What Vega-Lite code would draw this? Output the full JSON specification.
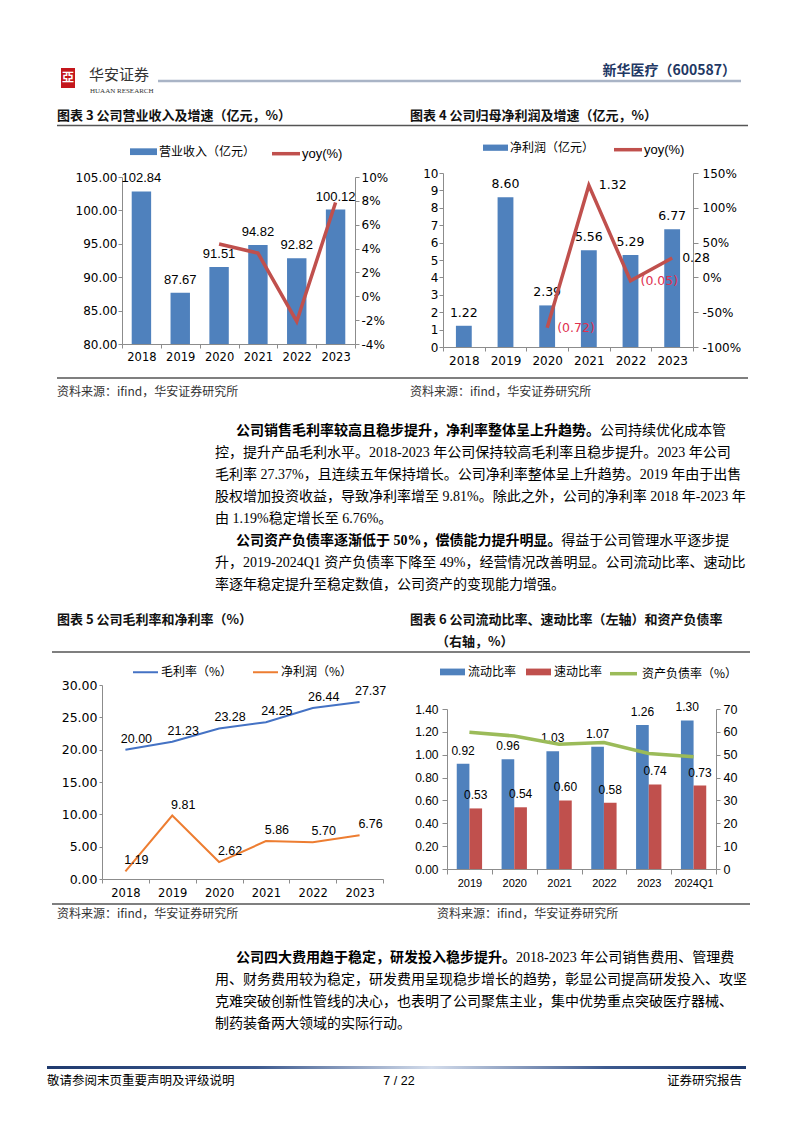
{
  "$schema": "https://vega.github.io/schema/vega-lite/v6.json",
  "background": "white",
  "padding": 0,
  "spacing": 0,
  "bounds": "flush",
  "resolve": {"scale": {"fill": "independent", "stroke": "independent", "color": "independent"}},
  "config": {
    "view": {"stroke": null},
    "font": "Noto Sans CJK SC",
    "axis": {"grid": false, "domainColor": "#8C8C8C", "tickColor": "#8C8C8C", "labelColor": "#000", "labelFont": "DejaVu Sans", "labelFontSize": 12, "domainWidth": 1, "tickWidth": 1, "labelOverlap": false, "labelBound": false},
    "legend": {"padding": 0, "labelColor": "#000"},
    "locale": {"number": {"decimal": ".", "thousands": ",", "grouping": [3], "currency": ["", ""], "minus": "-"}}
  },
  "vconcat": [
    {
      "width": 802, "height": 173,
      "layer": [
        {"data": {"values": [{"item": "logo"}]}, "mark": {"type": "rect", "fill": "#C4161C"}, "encoding": {"x": {"value": 61}, "x2": {"value": 75}, "y": {"value": 68}, "y2": {"value": 88}}},
        {"data": {"values": [{"glyph": "亞"}]}, "mark": {"type": "text", "align": "center", "baseline": "middle", "font": "Noto Sans CJK SC", "fontSize": 12, "fontWeight": "bold", "color": "white"}, "encoding": {"x": {"value": 68}, "y": {"value": 78}, "text": {"field": "glyph"}}},
        {"data": {"values": [{"name": "华安证券"}]}, "mark": {"type": "text", "align": "left", "baseline": "middle", "font": "Noto Sans CJK SC", "fontSize": 15, "color": "#333"}, "encoding": {"x": {"value": 89}, "y": {"value": 75}, "text": {"field": "name"}}},
        {"data": {"values": [{"name": "HUAAN RESEARCH"}]}, "mark": {"type": "text", "align": "left", "baseline": "middle", "font": "Liberation Serif", "fontSize": 7, "color": "#333"}, "encoding": {"x": {"value": 90}, "y": {"value": 91}, "text": {"field": "name"}}},
        {"data": {"values": [{"item": "header rule"}]}, "mark": {"type": "rule", "stroke": "#A9B4C6", "strokeWidth": 2.5}, "encoding": {"x": {"value": 158}, "x2": {"value": 741}, "y": {"value": 81}}},
        {"data": {"values": [{"name": "新华医疗（600587）"}]}, "mark": {"type": "text", "align": "right", "baseline": "middle", "font": "Noto Sans CJK SC", "fontSize": 14, "fontWeight": "bold", "color": "#1F3864"}, "encoding": {"x": {"value": 736}, "y": {"value": 71}, "text": {"field": "name"}}},
        {"data": {"values": [{"title": "图表 3 公司营业收入及增速（亿元，%）"}]}, "mark": {"type": "text", "align": "left", "baseline": "middle", "font": "Noto Sans CJK SC", "fontSize": 13, "fontWeight": "bold", "color": "#111"}, "encoding": {"x": {"value": 57}, "y": {"value": 116}, "text": {"field": "title"}}},
        {"data": {"values": [{"title": "图表 4 公司归母净利润及增速（亿元，%）"}]}, "mark": {"type": "text", "align": "left", "baseline": "middle", "font": "Noto Sans CJK SC", "fontSize": 13, "fontWeight": "bold", "color": "#111"}, "encoding": {"x": {"value": 410}, "y": {"value": 116}, "text": {"field": "title"}}},
        {"data": {"values": [{"item": "title rule"}]}, "mark": {"type": "rule", "stroke": "#555", "strokeWidth": 1.5}, "encoding": {"x": {"value": 57}, "x2": {"value": 748}, "y": {"value": 125.5}}}
      ]
    },
    {
      "width": 802, "height": 174,
      "layer": [
        {
          "data": {"values": [
            {"year": "2018", "revenue": 102.84, "yoy": null},
            {"year": "2019", "revenue": 87.67, "yoy": null},
            {"year": "2020", "revenue": 91.51, "yoy": 0.0438},
            {"year": "2021", "revenue": 94.82, "yoy": 0.0362},
            {"year": "2022", "revenue": 92.82, "yoy": -0.0211},
            {"year": "2023", "revenue": 100.12, "yoy": 0.0786}
          ]},
          "encoding": {
            "x": {"field": "year", "type": "ordinal", "scale": {"range": [122, 355], "paddingInner": 0, "paddingOuter": 0}, "axis": {"orient": "bottom", "offset": -3, "title": null, "labelAngle": 0, "tickBand": "extent", "tickSize": 4, "labelPadding": 3, "labelFont": "DejaVu Sans", "labelFontSize": 11.5}},
            "y": {"field": "revenue", "type": "quantitative", "scale": {"domain": [80, 105], "range": [171, 4], "zero": false, "nice": false}, "axis": {"orient": "left", "offset": -122, "title": null, "values": [80, 85, 90, 95, 100, 105], "format": ".2f", "tickSize": 4, "labelPadding": 1}}
          },
          "layer": [
            {"mark": {"type": "bar", "width": {"band": 0.5}},
             "encoding": {
               "y2": {"datum": 80},
               "fill": {"datum": "营业收入（亿元）", "type": "nominal", "scale": {"range": ["#4F81BD"]}, "legend": {"orient": "none", "legendX": 130, "legendY": -34.8, "direction": "horizontal", "title": null, "symbolType": "M-1,-0.25H1V0.25H-1Z", "symbolSize": 729, "symbolStrokeWidth": 0, "labelFont": "Noto Sans CJK SC", "labelFontSize": 12, "labelOffset": 2}}
             }},
            {"mark": {"type": "text", "dy": -13, "font": "Liberation Sans", "fontSize": 13, "color": "#000"},
             "encoding": {"text": {"field": "revenue", "type": "quantitative", "format": ".2f"}}}
          ]
        },
        {
          "data": {"values": [
            {"year": "2018", "revenue": 102.84, "yoy": null},
            {"year": "2019", "revenue": 87.67, "yoy": null},
            {"year": "2020", "revenue": 91.51, "yoy": 0.0438},
            {"year": "2021", "revenue": 94.82, "yoy": 0.0362},
            {"year": "2022", "revenue": 92.82, "yoy": -0.0211},
            {"year": "2023", "revenue": 100.12, "yoy": 0.0786}
          ]},
          "mark": {"type": "line", "strokeWidth": 3.5},
          "encoding": {
            "x": {"field": "year", "type": "ordinal", "scale": {"range": [122, 355], "paddingInner": 0, "paddingOuter": 0}, "axis": null},
            "y": {"field": "yoy", "type": "quantitative", "scale": {"domain": [-0.04, 0.1], "range": [171, 4], "nice": false, "zero": false}, "axis": {"orient": "right", "offset": -447, "title": null, "values": [-0.04, -0.02, 0, 0.02, 0.04, 0.06, 0.08, 0.1], "format": ".0%", "tickSize": 4, "labelPadding": 2}},
            "stroke": {"datum": "yoy(%)", "type": "nominal", "scale": {"range": ["#C0504D"]}, "legend": {"orient": "none", "legendX": 270, "legendY": -35.3, "direction": "horizontal", "title": null, "symbolType": "stroke", "symbolSize": 784, "symbolStrokeWidth": 3.5, "labelFont": "Liberation Sans", "labelFontSize": 13, "labelOffset": 0}}
          }
        },
        {
          "data": {"values": [
            {"year": "2018", "profit": 1.22, "yoy": null},
            {"year": "2019", "profit": 8.60, "yoy": null},
            {"year": "2020", "profit": 2.39, "yoy": -0.722},
            {"year": "2021", "profit": 5.56, "yoy": 1.322},
            {"year": "2022", "profit": 5.29, "yoy": -0.049},
            {"year": "2023", "profit": 6.77, "yoy": 0.280}
          ]},
          "encoding": {
            "x": {"field": "year", "type": "ordinal", "scale": {"range": [443, 693], "paddingInner": 0, "paddingOuter": 0}, "axis": {"orient": "bottom", "offset": 0, "title": null, "labelAngle": 0, "tickBand": "extent", "tickSize": 4, "labelPadding": 4, "labelFont": "DejaVu Sans", "labelFontSize": 12}},
            "y": {"field": "profit", "type": "quantitative", "scale": {"domain": [0, 10], "range": [174, 0], "nice": false}, "axis": {"orient": "left", "offset": -443, "title": null, "values": [0, 1, 2, 3, 4, 5, 6, 7, 8, 9, 10], "format": "d", "tickSize": 4, "labelPadding": 1}}
          },
          "layer": [
            {"mark": {"type": "bar", "width": {"band": 0.38}},
             "encoding": {
               "y2": {"datum": 0},
               "fill": {"datum": "净利润（亿元）", "type": "nominal", "scale": {"range": ["#4F81BD"]}, "legend": {"orient": "none", "legendX": 483, "legendY": -37.8, "direction": "horizontal", "title": null, "symbolType": "M-1,-0.25H1V0.25H-1Z", "symbolSize": 625, "symbolStrokeWidth": 0, "labelFont": "Noto Sans CJK SC", "labelFontSize": 12, "labelOffset": 2}}
             }},
            {"mark": {"type": "text", "dy": -13, "font": "DejaVu Sans", "fontSize": 12.5, "color": "#000"},
             "encoding": {"text": {"field": "profit", "type": "quantitative", "format": ".2f"}}}
          ]
        },
        {
          "data": {"values": [
            {"year": "2018", "profit": 1.22, "yoy": null},
            {"year": "2019", "profit": 8.60, "yoy": null},
            {"year": "2020", "profit": 2.39, "yoy": -0.722},
            {"year": "2021", "profit": 5.56, "yoy": 1.322},
            {"year": "2022", "profit": 5.29, "yoy": -0.049},
            {"year": "2023", "profit": 6.77, "yoy": 0.280}
          ]},
          "encoding": {
            "x": {"field": "year", "type": "ordinal", "scale": {"range": [443, 693], "paddingInner": 0, "paddingOuter": 0}, "axis": null},
            "y": {"field": "yoy", "type": "quantitative", "scale": {"domain": [-1, 1.5], "range": [174, 0], "nice": false, "zero": false}, "axis": {"orient": "right", "offset": -109, "title": null, "values": [-1, -0.5, 0, 0.5, 1, 1.5], "format": ".0%", "tickSize": 5, "labelPadding": 4}}
          },
          "layer": [
            {"mark": {"type": "line", "strokeWidth": 3.5},
             "encoding": {
               "stroke": {"datum": "yoy(%)", "type": "nominal", "scale": {"range": ["#C0504D"]}, "legend": {"orient": "none", "legendX": 612, "legendY": -39.3, "direction": "horizontal", "title": null, "symbolType": "stroke", "symbolSize": 784, "symbolStrokeWidth": 3.5, "labelFont": "Liberation Sans", "labelFontSize": 13, "labelOffset": 0}}
             }},
            {"transform": [{"filter": "datum.yoy != null"}],
             "mark": {"type": "text", "align": "left", "baseline": "middle", "dx": 10, "font": "DejaVu Sans", "fontSize": 12.5},
             "encoding": {
               "text": {"field": "yoy", "type": "quantitative", "format": "(.2f"},
               "color": {"condition": {"test": "datum.yoy < 0", "value": "#E0304F"}, "value": "#000"}
             }}
          ]
        }
      ],
      "resolve": {"scale": {"x": "independent", "y": "independent", "fill": "independent", "stroke": "independent"}}
    },
    {
      "width": 802, "height": 73,
      "layer": [
        {"data": {"values": [{"item": "source rule"}]}, "mark": {"type": "rule", "stroke": "#555", "strokeWidth": 1.5}, "encoding": {"x": {"value": 57}, "x2": {"value": 748}, "y": {"value": 31}}},
        {"data": {"values": [{"source": "资料来源：ifind，华安证券研究所"}]}, "mark": {"type": "text", "align": "left", "baseline": "middle", "font": "Noto Sans CJK SC", "fontSize": 12, "color": "#333"}, "encoding": {"x": {"value": 57}, "y": {"value": 45}, "text": {"field": "source"}}},
        {"data": {"values": [{"source": "资料来源：ifind，华安证券研究所"}]}, "mark": {"type": "text", "align": "left", "baseline": "middle", "font": "Noto Sans CJK SC", "fontSize": 12, "color": "#333"}, "encoding": {"x": {"value": 410}, "y": {"value": 45}, "text": {"field": "source"}}}
      ]
    },
    {
      "width": 760, "height": 176,
      "data": {"values": [
        {"line": 1, "lead": "公司销售毛利率较高且稳步提升，净利率整体呈上升趋势。", "tail": "公司持续优化成本管", "text": null},
        {"line": 2, "lead": null, "tail": null, "text": "控，提升产品毛利水平。2018-2023 年公司保持较高毛利率且稳步提升。2023 年公司"},
        {"line": 3, "lead": null, "tail": null, "text": "毛利率 27.37%，且连续五年保持增长。公司净利率整体呈上升趋势。2019 年由于出售"},
        {"line": 4, "lead": null, "tail": null, "text": "股权增加投资收益，导致净利率增至 9.81%。除此之外，公司的净利率 2018 年-2023 年"},
        {"line": 5, "lead": null, "tail": null, "text": "由 1.19%稳定增长至 6.76%。"},
        {"line": 6, "lead": "公司资产负债率逐渐低于 50%，偿债能力提升明显。", "tail": "得益于公司管理水平逐步提", "text": null},
        {"line": 7, "lead": null, "tail": null, "text": "升，2019-2024Q1 资产负债率下降至 49%，经营情况改善明显。公司流动比率、速动比"},
        {"line": 8, "lead": null, "tail": null, "text": "率逐年稳定提升至稳定数值，公司资产的变现能力增强。"}
      ]},
      "encoding": {
        "y": {"field": "line", "type": "ordinal", "axis": null, "scale": {"type": "point", "padding": 0.5, "domain": [1, 2, 3, 4, 5, 6, 7, 8]}}
      },
      "layer": [
        {"transform": [{"filter": "datum.lead != null"}], "mark": {"type": "text", "align": "left", "baseline": "middle", "font": "Liberation Serif, Noto Sans CJK SC", "fontSize": 14, "fontWeight": "bold", "color": "#000"}, "encoding": {"x": {"value": 236}, "text": {"field": "lead"}}},
        {"transform": [{"filter": "datum.lead != null"}], "mark": {"type": "text", "align": "left", "baseline": "middle", "font": "Liberation Serif, Noto Sans CJK SC", "fontSize": 14, "color": "#000"}, "encoding": {"x": {"value": {"expr": "236 + 14 * (length(replace(datum.lead, regexp('[ -~]', 'g'), '')) + 0.56 * (length(datum.lead) - length(replace(datum.lead, regexp('[ -~]', 'g'), ''))))"}}, "text": {"field": "tail"}}},
        {"transform": [{"filter": "datum.text != null"}], "mark": {"type": "text", "align": "left", "baseline": "middle", "font": "Liberation Serif, Noto Sans CJK SC", "fontSize": 14, "color": "#000"}, "encoding": {"x": {"value": 215}, "text": {"field": "text"}}}
      ]
    },
    {
      "width": 802, "height": 89,
      "layer": [
        {"data": {"values": [{"title": "图表 5 公司毛利率和净利率（%）"}]}, "mark": {"type": "text", "align": "left", "baseline": "middle", "font": "Noto Sans CJK SC", "fontSize": 13, "fontWeight": "bold", "color": "#111"}, "encoding": {"x": {"value": 57}, "y": {"value": 24}, "text": {"field": "title"}}},
        {"data": {"values": [{"title": "图表 6 公司流动比率、速动比率（左轴）和资产负债率"}]}, "mark": {"type": "text", "align": "left", "baseline": "middle", "font": "Noto Sans CJK SC", "fontSize": 13, "fontWeight": "bold", "color": "#111"}, "encoding": {"x": {"value": 410}, "y": {"value": 24}, "text": {"field": "title"}}},
        {"data": {"values": [{"title": "（右轴，%）"}]}, "mark": {"type": "text", "align": "left", "baseline": "middle", "font": "Noto Sans CJK SC", "fontSize": 13, "fontWeight": "bold", "color": "#111"}, "encoding": {"x": {"value": 436}, "y": {"value": 46}, "text": {"field": "title"}}},
        {"data": {"values": [{"item": "title rule"}]}, "mark": {"type": "rule", "stroke": "#555", "strokeWidth": 1.5}, "encoding": {"x": {"value": 52}, "x2": {"value": 750}, "y": {"value": 56}}}
      ]
    },
    {
      "width": 802, "height": 194,
      "layer": [
        {
          "data": {"values": [
            {"year": "2018", "metric": "毛利率（%）", "value": 20.00},
            {"year": "2019", "metric": "毛利率（%）", "value": 21.23},
            {"year": "2020", "metric": "毛利率（%）", "value": 23.28},
            {"year": "2021", "metric": "毛利率（%）", "value": 24.25},
            {"year": "2022", "metric": "毛利率（%）", "value": 26.44},
            {"year": "2023", "metric": "毛利率（%）", "value": 27.37},
            {"year": "2018", "metric": "净利润（%）", "value": 1.19},
            {"year": "2019", "metric": "净利润（%）", "value": 9.81},
            {"year": "2020", "metric": "净利润（%）", "value": 2.62},
            {"year": "2021", "metric": "净利润（%）", "value": 5.86},
            {"year": "2022", "metric": "净利润（%）", "value": 5.70},
            {"year": "2023", "metric": "净利润（%）", "value": 6.76}
          ]},
          "encoding": {
            "x": {"field": "year", "type": "ordinal", "scale": {"range": [102, 383], "paddingInner": 0, "paddingOuter": 0}, "axis": {"orient": "bottom", "title": null, "labelAngle": 0, "tickBand": "extent", "tickSize": 4, "labelPadding": 4, "labelFont": "DejaVu Sans", "labelFontSize": 11.5}},
            "y": {"field": "value", "type": "quantitative", "scale": {"domain": [0, 30], "range": [194, 0], "nice": false}, "axis": {"orient": "left", "offset": -102, "title": null, "values": [0, 5, 10, 15, 20, 25, 30], "format": ".2f", "tickSize": 3, "labelPadding": 2, "labelFontSize": 12.5}}
          },
          "layer": [
            {"mark": {"type": "line", "strokeWidth": 2},
             "encoding": {"stroke": {"field": "metric", "type": "nominal", "scale": {"domain": ["毛利率（%）", "净利润（%）"], "range": ["#4472C4", "#ED7D31"]}, "legend": {"orient": "none", "legendX": 132, "legendY": -26.5, "direction": "horizontal", "title": null, "symbolType": "stroke", "symbolSize": 625, "symbolStrokeWidth": 2, "labelFont": "Noto Sans CJK SC", "labelFontSize": 12, "labelOffset": 2, "columnPadding": 16}}}},
            {"mark": {"type": "text", "dx": 11, "dy": -11, "font": "Liberation Sans", "fontSize": 12.5, "color": "#000"},
             "encoding": {"text": {"field": "value", "type": "quantitative", "format": ".2f"}}}
          ]
        },
        {
          "data": {"values": [
            {"period": "2019", "metric": "流动比率", "value": 0.92},
            {"period": "2020", "metric": "流动比率", "value": 0.96},
            {"period": "2021", "metric": "流动比率", "value": 1.03},
            {"period": "2022", "metric": "流动比率", "value": 1.07},
            {"period": "2023", "metric": "流动比率", "value": 1.26},
            {"period": "2024Q1", "metric": "流动比率", "value": 1.30},
            {"period": "2019", "metric": "速动比率", "value": 0.53},
            {"period": "2020", "metric": "速动比率", "value": 0.54},
            {"period": "2021", "metric": "速动比率", "value": 0.60},
            {"period": "2022", "metric": "速动比率", "value": 0.58},
            {"period": "2023", "metric": "速动比率", "value": 0.74},
            {"period": "2024Q1", "metric": "速动比率", "value": 0.73}
          ]},
          "encoding": {
            "x": {"field": "period", "type": "ordinal", "scale": {"range": [447, 716], "paddingInner": 0, "paddingOuter": 0}, "axis": {"orient": "bottom", "offset": -10, "title": null, "labelAngle": 0, "tickBand": "extent", "tickSize": 5, "labelPadding": 3, "labelFont": "Liberation Sans", "labelFontSize": 11}},
            "xOffset": {"field": "metric", "type": "nominal", "scale": {"domain": ["流动比率", "速动比率"], "paddingInner": 0, "paddingOuter": 0.77}},
            "y": {"field": "value", "type": "quantitative", "scale": {"domain": [0, 1.4], "range": [184, 24], "nice": false}, "axis": {"orient": "left", "offset": -447, "title": null, "values": [0, 0.2, 0.4, 0.6, 0.8, 1.0, 1.2, 1.4], "format": ".2f", "tickSize": 5, "labelPadding": 4, "labelFont": "Liberation Sans", "labelFontSize": 12}}
          },
          "layer": [
            {"mark": {"type": "bar"},
             "encoding": {
               "y2": {"datum": 0},
               "fill": {"field": "metric", "type": "nominal", "scale": {"domain": ["流动比率", "速动比率"], "range": ["#4F81BD", "#C0504D"]}, "legend": {"orient": "none", "legendX": 440, "legendY": -25.8, "direction": "horizontal", "title": null, "symbolType": "M-1,-0.27H1V0.27H-1Z", "symbolSize": 625, "symbolStrokeWidth": 0, "labelFont": "Noto Sans CJK SC", "labelFontSize": 12, "labelOffset": 3, "columnPadding": 9}}
             }},
            {"mark": {"type": "text", "dy": -13, "font": "Liberation Sans", "fontSize": 12, "color": "#000"},
             "encoding": {"text": {"field": "value", "type": "quantitative", "format": ".2f"}}}
          ]
        },
        {
          "data": {"values": [
            {"period": "2019", "debt_ratio": 59.8},
            {"period": "2020", "debt_ratio": 58.2},
            {"period": "2021", "debt_ratio": 54.6},
            {"period": "2022", "debt_ratio": 55.3},
            {"period": "2023", "debt_ratio": 50.5},
            {"period": "2024Q1", "debt_ratio": 49.1}
          ]},
          "mark": {"type": "line", "strokeWidth": 3.5},
          "encoding": {
            "x": {"field": "period", "type": "ordinal", "scale": {"range": [447, 716], "paddingInner": 0, "paddingOuter": 0}, "axis": null},
            "y": {"field": "debt_ratio", "type": "quantitative", "scale": {"domain": [0, 70], "range": [184, 24], "nice": false}, "axis": {"orient": "right", "offset": -86, "title": null, "values": [0, 10, 20, 30, 40, 50, 60, 70], "format": "d", "tickSize": 4, "labelPadding": 3, "labelFont": "Liberation Sans", "labelFontSize": 12.5}},
            "stroke": {"datum": "资产负债率（%）", "type": "nominal", "scale": {"range": ["#9BBB59"]}, "legend": {"orient": "none", "legendX": 608, "legendY": -26.8, "direction": "horizontal", "title": null, "symbolType": "stroke", "symbolSize": 729, "symbolStrokeWidth": 3.5, "labelFont": "Noto Sans CJK SC", "labelFontSize": 12, "labelOffset": 3}}
          }
        }
      ],
      "resolve": {"scale": {"x": "independent", "y": "independent", "fill": "independent", "stroke": "independent"}}
    },
    {
      "width": 802, "height": 68,
      "layer": [
        {"data": {"values": [{"item": "source rule"}]}, "mark": {"type": "rule", "stroke": "#555", "strokeWidth": 1.5}, "encoding": {"x": {"value": 52}, "x2": {"value": 750}, "y": {"value": 25}}},
        {"data": {"values": [{"source": "资料来源：ifind，华安证券研究所"}]}, "mark": {"type": "text", "align": "left", "baseline": "middle", "font": "Noto Sans CJK SC", "fontSize": 12, "color": "#333"}, "encoding": {"x": {"value": 57}, "y": {"value": 35}, "text": {"field": "source"}}},
        {"data": {"values": [{"source": "资料来源：ifind，华安证券研究所"}]}, "mark": {"type": "text", "align": "left", "baseline": "middle", "font": "Noto Sans CJK SC", "fontSize": 12, "color": "#333"}, "encoding": {"x": {"value": 437}, "y": {"value": 35}, "text": {"field": "source"}}}
      ]
    },
    {
      "width": 760, "height": 88,
      "data": {"values": [
        {"line": 1, "lead": "公司四大费用趋于稳定，研发投入稳步提升。", "tail": "2018-2023 年公司销售费用、管理费", "text": null},
        {"line": 2, "lead": null, "tail": null, "text": "用、财务费用较为稳定，研发费用呈现稳步增长的趋势，彰显公司提高研发投入、攻坚"},
        {"line": 3, "lead": null, "tail": null, "text": "克难突破创新性管线的决心，也表明了公司聚焦主业，集中优势重点突破医疗器械、"},
        {"line": 4, "lead": null, "tail": null, "text": "制药装备两大领域的实际行动。"}
      ]},
      "encoding": {
        "y": {"field": "line", "type": "ordinal", "axis": null, "scale": {"type": "point", "padding": 0.5, "domain": [1, 2, 3, 4]}}
      },
      "layer": [
        {"transform": [{"filter": "datum.lead != null"}], "mark": {"type": "text", "align": "left", "baseline": "middle", "font": "Liberation Serif, Noto Sans CJK SC", "fontSize": 14, "fontWeight": "bold", "color": "#000"}, "encoding": {"x": {"value": 236}, "text": {"field": "lead"}}},
        {"transform": [{"filter": "datum.lead != null"}], "mark": {"type": "text", "align": "left", "baseline": "middle", "font": "Liberation Serif, Noto Sans CJK SC", "fontSize": 14, "color": "#000"}, "encoding": {"x": {"value": {"expr": "236 + 14 * (length(replace(datum.lead, regexp('[ -~]', 'g'), '')) + 0.56 * (length(datum.lead) - length(replace(datum.lead, regexp('[ -~]', 'g'), ''))))"}}, "text": {"field": "tail"}}},
        {"transform": [{"filter": "datum.text != null"}], "mark": {"type": "text", "align": "left", "baseline": "middle", "font": "Liberation Serif, Noto Sans CJK SC", "fontSize": 14, "color": "#000"}, "encoding": {"x": {"value": 215}, "text": {"field": "text"}}}
      ]
    },
    {
      "width": 802, "height": 98,
      "layer": [
        {"data": {"values": [{"item": "footer rule"}]}, "mark": {"type": "rect", "fill": {"gradient": "linear", "x1": 0, "y1": 0, "x2": 1, "y2": 0, "stops": [{"offset": 0, "color": "#1F3A6E"}, {"offset": 0.3, "color": "#3D5A8F"}, {"offset": 0.55, "color": "#D3DCEB"}, {"offset": 0.8, "color": "#3D5A8F"}, {"offset": 1, "color": "#1F3A6E"}]}}, "encoding": {"x": {"value": 47}, "x2": {"value": 746}, "y": {"value": 31}, "y2": {"value": 34}}},
        {"data": {"values": [{"note": "敬请参阅末页重要声明及评级说明"}]}, "mark": {"type": "text", "align": "left", "baseline": "middle", "font": "Noto Sans CJK SC", "fontSize": 12.5, "color": "#000"}, "encoding": {"x": {"value": 47}, "y": {"value": 46}, "text": {"field": "note"}}},
        {"data": {"values": [{"page": "7 / 22"}]}, "mark": {"type": "text", "align": "center", "baseline": "middle", "font": "Liberation Sans", "fontSize": 12.5, "color": "#000"}, "encoding": {"x": {"value": 399}, "y": {"value": 46}, "text": {"field": "page"}}},
        {"data": {"values": [{"note": "证券研究报告"}]}, "mark": {"type": "text", "align": "right", "baseline": "middle", "font": "Noto Sans CJK SC", "fontSize": 12.5, "color": "#000"}, "encoding": {"x": {"value": 742}, "y": {"value": 46}, "text": {"field": "note"}}}
      ]
    }
  ]
}
